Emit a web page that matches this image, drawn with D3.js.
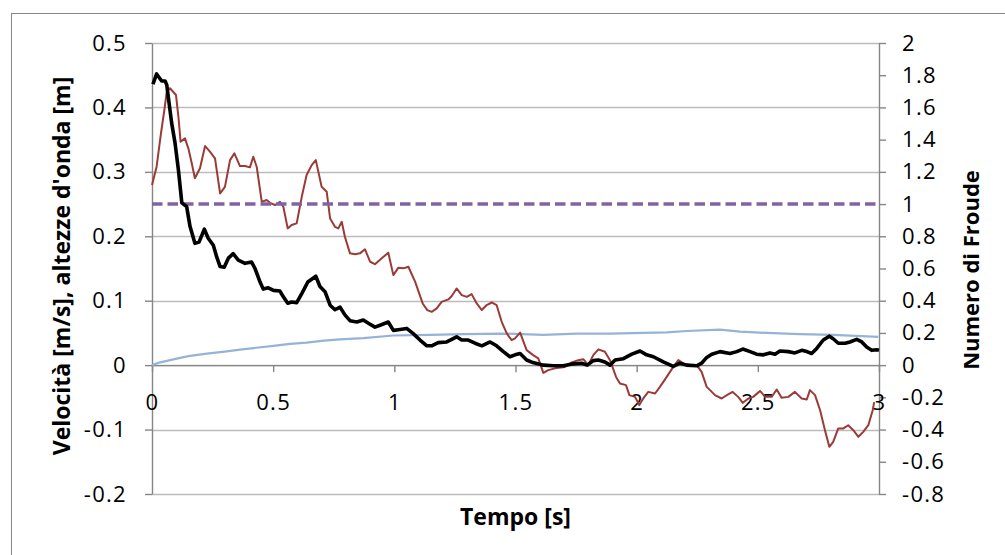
<!DOCTYPE html>
<html><head><meta charset="utf-8">
<script src="https://cdn.jsdelivr.net/npm/d3@7"></script>
<style>body{margin:0;background:#fff;} svg{display:block;}</style>
</head><body>
<svg id="c" width="1005" height="555"></svg>
<script>
// ---- data ----
const xTicks = [0, 0.5, 1, 1.5, 2, 2.5, 3];
const leftTicks = [-0.2, -0.1, 0, 0.1, 0.2, 0.3, 0.4, 0.5];
const rightTicks = [-0.8, -0.6, -0.4, -0.2, 0, 0.2, 0.4, 0.6, 0.8, 1, 1.2, 1.4, 1.6, 1.8, 2];

// velocity [m/s] (left axis)
const tVel = [0.004,0.019,0.040,0.054,0.061,0.067,0.081,0.095,0.109,0.123,0.143,0.157,0.177,0.194,0.216,0.232,0.253,0.267,0.281,0.298,0.315,0.335,0.356,0.384,0.411,0.425,0.446,0.459,0.480,0.501,0.528,0.542,0.560,0.576,0.597,0.618,0.643,0.676,0.693,0.714,0.735,0.755,0.776,0.796,0.817,0.845,0.872,0.893,0.920,0.941,0.975,0.996,1.016,1.051,1.078,1.106,1.134,1.154,1.181,1.216,1.237,1.257,1.278,1.305,1.333,1.361,1.395,1.422,1.450,1.477,1.498,1.519,1.546,1.572,1.615,1.656,1.697,1.739,1.773,1.796,1.821,1.842,1.869,1.890,1.911,1.945,1.980,2.014,2.041,2.069,2.110,2.151,2.179,2.206,2.248,2.268,2.289,2.310,2.344,2.385,2.413,2.438,2.468,2.495,2.523,2.550,2.571,2.591,2.626,2.653,2.681,2.702,2.722,2.743,2.770,2.795,2.811,2.832,2.860,2.880,2.908,2.929,2.949,2.970,2.990,3.000];
const velocity = [0.436,0.452,0.441,0.441,0.435,0.417,0.376,0.345,0.303,0.252,0.246,0.215,0.189,0.191,0.211,0.197,0.186,0.168,0.153,0.152,0.166,0.173,0.163,0.158,0.160,0.150,0.129,0.118,0.120,0.116,0.115,0.106,0.096,0.098,0.097,0.111,0.129,0.138,0.122,0.114,0.093,0.086,0.090,0.078,0.069,0.067,0.070,0.065,0.059,0.062,0.067,0.054,0.055,0.057,0.049,0.039,0.030,0.030,0.035,0.036,0.040,0.044,0.039,0.039,0.034,0.030,0.036,0.030,0.021,0.013,0.016,0.018,0.008,0.004,0.000,-0.001,-0.001,0.002,0.003,0.000,0.007,0.008,0.005,0.000,0.008,0.010,0.017,0.022,0.016,0.013,0.005,-0.002,0.003,0.000,-0.001,0.003,0.012,0.017,0.021,0.018,0.021,0.025,0.021,0.017,0.016,0.019,0.017,0.022,0.021,0.019,0.023,0.021,0.018,0.026,0.039,0.045,0.041,0.034,0.034,0.036,0.040,0.036,0.028,0.023,0.024,0.023];

// Froude number (right axis)
const tFr = [0,0.019,0.037,0.051,0.061,0.074,0.099,0.109,0.118,0.136,0.150,0.164,0.177,0.198,0.219,0.239,0.260,0.281,0.301,0.322,0.340,0.363,0.384,0.404,0.418,0.432,0.453,0.473,0.491,0.508,0.528,0.542,0.560,0.576,0.597,0.618,0.638,0.659,0.676,0.700,0.721,0.735,0.755,0.769,0.783,0.796,0.817,0.838,0.858,0.879,0.900,0.920,0.948,0.975,0.996,1.016,1.037,1.058,1.086,1.117,1.136,1.154,1.175,1.195,1.223,1.237,1.257,1.278,1.299,1.319,1.340,1.361,1.381,1.402,1.422,1.443,1.464,1.484,1.498,1.519,1.546,1.573,1.594,1.615,1.635,1.663,1.704,1.732,1.759,1.780,1.800,1.821,1.842,1.869,1.890,1.915,1.931,1.956,1.970,1.993,2.011,2.027,2.048,2.076,2.096,2.124,2.151,2.172,2.192,2.220,2.248,2.268,2.289,2.303,2.323,2.351,2.372,2.396,2.419,2.438,2.461,2.481,2.509,2.530,2.557,2.578,2.598,2.626,2.653,2.681,2.702,2.715,2.736,2.757,2.777,2.795,2.811,2.832,2.853,2.873,2.894,2.915,2.935,2.956,2.974,2.980];
const froude = [1.118,1.232,1.439,1.584,1.698,1.719,1.677,1.542,1.387,1.408,1.346,1.253,1.160,1.222,1.360,1.325,1.284,1.066,1.107,1.273,1.315,1.236,1.236,1.228,1.294,1.232,1.014,1.025,1.004,0.994,1.014,0.983,0.849,0.870,0.880,1.045,1.180,1.242,1.273,1.107,1.076,0.910,0.859,0.849,0.890,0.797,0.694,0.689,0.694,0.719,0.642,0.627,0.663,0.698,0.559,0.604,0.601,0.611,0.517,0.383,0.342,0.331,0.352,0.393,0.408,0.429,0.476,0.435,0.424,0.441,0.383,0.342,0.373,0.389,0.373,0.269,0.197,0.155,0.166,0.202,0.093,0.062,0.042,-0.048,-0.031,-0.020,-0.011,0.017,0.031,0.037,0.000,0.062,0.098,0.083,0.031,-0.073,-0.114,-0.124,-0.186,-0.197,-0.248,-0.207,-0.166,-0.176,-0.135,-0.073,-0.011,0.031,0.011,0.000,0.000,-0.042,-0.135,-0.155,-0.186,-0.207,-0.186,-0.166,-0.197,-0.234,-0.207,-0.197,-0.160,-0.197,-0.197,-0.151,-0.203,-0.197,-0.166,-0.207,-0.213,-0.155,-0.186,-0.280,-0.404,-0.507,-0.476,-0.393,-0.393,-0.373,-0.404,-0.445,-0.414,-0.373,-0.280,-0.230];

// wave height [m] (left axis)
const tH = [0,0.03,0.088,0.15,0.226,0.30,0.363,0.43,0.501,0.57,0.638,0.71,0.776,0.872,0.996,1.147,1.285,1.450,1.615,1.753,1.890,2.027,2.124,2.206,2.344,2.426,2.537,2.674,2.811,2.997];
const waveHeight = [0,0.004,0.009,0.014,0.018,0.021,0.024,0.027,0.030,0.033,0.035,0.038,0.040,0.042,0.046,0.047,0.048,0.049,0.047,0.049,0.049,0.050,0.051,0.053,0.055,0.052,0.050,0.048,0.047,0.044];

const froudeCritical = 1;

// ---- chart ----
const svg = d3.select('#c');
const L = 152, R = 879, T = 43, B = 494;
const x = d3.scaleLinear().domain([0, 3]).range([L, R]);
const yL = d3.scaleLinear().domain([-0.2, 0.5]).range([B, T]);
const yR = d3.scaleLinear().domain([-0.8, 2]).range([B, T]);
const fmt = d => String(Math.round(d * 10) / 10);
const axisCol = '#868686', gridCol = '#bcbcbc';
const font = "'Open Sans', sans-serif";

svg.append('rect').attr('x', 11.5).attr('y', 13.5).attr('width', 1100).attr('height', 700)
  .attr('fill', 'none').attr('stroke', axisCol).attr('stroke-width', 1);

// gridlines
svg.append('g').selectAll('line').data(leftTicks).join('line')
  .attr('x1', L).attr('x2', R)
  .attr('y1', d => Math.round(yL(d)) + 0.5).attr('y2', d => Math.round(yL(d)) + 0.5)
  .attr('stroke', gridCol).attr('stroke-width', 1.4);

function styleAxis(g) {
  g.selectAll('path.domain').attr('stroke', axisCol).attr('stroke-width', 1.4);
  g.selectAll('.tick line').attr('stroke', axisCol).attr('stroke-width', 1.4);
  g.selectAll('.tick text').attr('fill', '#000').style('font-family', font)
    .style('font-size', '22px').style('letter-spacing', '1.3px');
}

const gL = svg.append('g').attr('transform', `translate(${L},0)`)
  .call(d3.axisLeft(yL).tickValues(leftTicks).tickFormat(fmt).tickSize(7).tickSizeOuter(0).tickPadding(18));
styleAxis(gL);
const gR = svg.append('g').attr('transform', `translate(${R},0)`)
  .call(d3.axisRight(yR).tickValues(rightTicks).tickFormat(fmt).tickSize(7).tickSizeOuter(0).tickPadding(16));
styleAxis(gR);
const gX = svg.append('g').attr('transform', `translate(0,${yL(0)})`)
  .call(d3.axisBottom(x).tickValues(xTicks).tickFormat(fmt).tickSize(7).tickSizeOuter(0).tickPadding(22));
styleAxis(gX);

// series
const plot = svg.append('g');
const lineVel = d3.line().x((d, i) => x(tVel[i])).y(d => yL(d));
const lineFr = d3.line().x((d, i) => x(tFr[i])).y(d => yR(d));
const lineH = d3.line().x((d, i) => x(tH[i])).y(d => yL(d));

plot.append('path').datum(waveHeight).attr('d', lineH)
  .attr('fill', 'none').attr('stroke', '#95b3d7').attr('stroke-width', 2.2).attr('stroke-linejoin', 'round');
plot.append('path').datum(froude).attr('d', lineFr)
  .attr('fill', 'none').attr('stroke', '#9a3b38').attr('stroke-width', 2).attr('stroke-linejoin', 'round');
plot.append('line')
  .attr('x1', x(0)).attr('x2', x(3)).attr('y1', yR(froudeCritical)).attr('y2', yR(froudeCritical))
  .attr('stroke', '#8064a2').attr('stroke-width', 3.5).attr('stroke-dasharray', '10.5,5');
plot.append('path').datum(velocity).attr('d', lineVel)
  .attr('fill', 'none').attr('stroke', '#000').attr('stroke-width', 3.6).attr('stroke-linejoin', 'round');

// titles
svg.append('text').attr('x', (L + R) / 2).attr('y', 525).attr('text-anchor', 'middle')
  .style('font-family', font).style('font-weight', 'bold').style('font-size', '23px').text('Tempo [s]');
svg.append('text').attr('transform', 'translate(70,266) rotate(-90)').attr('text-anchor', 'middle')
  .style('font-family', font).style('font-weight', 'bold').style('font-size', '23px')
  .text("Velocità [m/s], altezze d'onda [m]");
svg.append('text').attr('transform', 'translate(979,270) rotate(-90)').attr('text-anchor', 'middle')
  .style('font-family', font).style('font-weight', 'bold').style('font-size', '22px')
  .text('Numero di Froude');
</script>
</body></html>
